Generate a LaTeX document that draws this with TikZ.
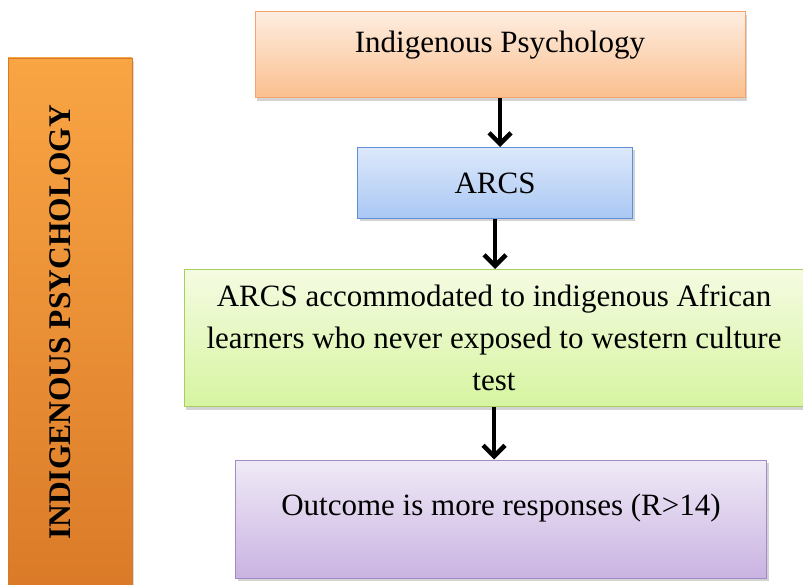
\documentclass[tikz,border=0pt]{standalone}
\usepackage{fontspec}
\setmainfont{Liberation Serif}
\usetikzlibrary{arrows.meta,shadows}

\definecolor{barTop}{HTML}{F9A544}
\definecolor{barMid}{HTML}{F7932F}
\definecolor{barBot}{HTML}{DA7A28}
\definecolor{psyTop}{HTML}{FDEDE0}
\definecolor{psyBot}{HTML}{FBBF8E}
\definecolor{psyLine}{HTML}{F4A46C}
\definecolor{arcsTop}{HTML}{DDE9FB}
\definecolor{arcsBot}{HTML}{A9C7F3}
\definecolor{arcsLine}{HTML}{5F8FD6}
\definecolor{accTop}{HTML}{F5FBE2}
\definecolor{accBot}{HTML}{D6F4A0}
\definecolor{accLine}{HTML}{A6CF5E}
\definecolor{outTop}{HTML}{F0EAF7}
\definecolor{outBot}{HTML}{C9B3E1}
\definecolor{outLine}{HTML}{A08BC4}

\begin{document}
\begin{tikzpicture}[x=1pt,y=-1pt,
    box/.style={line width=1pt,align=center,inner sep=0pt,
      font=\fontsize{31}{42}\selectfont,
      drop shadow={shadow xshift=2pt,shadow yshift=-3pt,opacity=0.35}},
    flow/.style={line width=4.5pt,-{Straight Barb[length=11pt,width=22pt,line width=4.5pt]}}]
  \useasboundingbox (0,0) rectangle (803,585);
  % side bar
  \node[draw=barBot,top color=barTop,middle color=barMid,bottom color=barBot,
    minimum width=124pt,minimum height=537pt,inner sep=0pt,
    drop shadow={shadow xshift=2pt,shadow yshift=-3pt,opacity=0.3}] (bar) at (70,326.5) {};
  \node[rotate=90,font=\fontsize{31.5}{36}\selectfont\bfseries] (bartext) at (60,322.5) {INDIGENOUS PSYCHOLOGY};
  % flow boxes
  \node[box,draw=psyLine,top color=psyTop,bottom color=psyBot,
    minimum width=490pt,minimum height=86pt,text depth=26pt] (psy) at (500,55) {Indigenous Psychology};
  \node[box,draw=arcsLine,top color=arcsTop,bottom color=arcsBot,
    minimum width=275pt,minimum height=71pt] (arcs) at (495,183) {ARCS};
  \node[box,draw=accLine,top color=accTop,bottom color=accBot,
    minimum width=620pt,minimum height=137pt] (acc) at (494,338)
    {ARCS accommodated to indigenous African\\learners who never exposed to western culture\\test};
  \node[box,draw=outLine,top color=outTop,bottom color=outBot,
    minimum width=531pt,minimum height=118pt,text depth=28pt] (out) at (501,519) {Outcome is more responses (R>14)};
  % arrows
  \draw[flow] (psy.south) -- (psy.south |- arcs.north);
  \draw[flow] (arcs.south) -- (arcs.south |- acc.north);
  \draw[flow] (acc.south) -- (acc.south |- out.north);
\end{tikzpicture}
\end{document}
